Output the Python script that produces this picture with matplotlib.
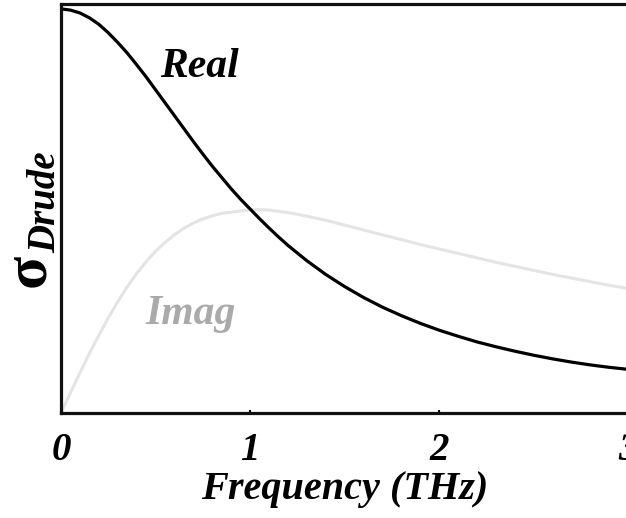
import matplotlib
matplotlib.use("Agg")
import matplotlib.pyplot as plt

# values (frequency in THz, arbitrary conductivity units)
freq = [0.00, 0.05, 0.10, 0.15, 0.20, 0.25, 0.30, 0.35, 0.40, 0.45,
        0.50, 0.55, 0.60, 0.65, 0.70, 0.75, 0.80, 0.85, 0.90, 0.95,
        1.00, 1.05, 1.10, 1.15, 1.20, 1.25, 1.30, 1.35, 1.40, 1.45,
        1.50, 1.60, 1.70, 1.80, 1.90, 2.00, 2.10, 2.20, 2.30, 2.40,
        2.50, 2.60, 2.70, 2.80, 2.90, 3.00]
sigma_real = [1.000, 0.997, 0.990, 0.978, 0.962, 0.941, 0.917, 0.891, 0.862, 0.832,
              0.800, 0.768, 0.736, 0.704, 0.672, 0.641, 0.611, 0.583, 0.555, 0.529,
              0.505, 0.481, 0.458, 0.436, 0.415, 0.396, 0.377, 0.360, 0.343, 0.328,
              0.313, 0.286, 0.262, 0.241, 0.222, 0.205, 0.190, 0.176, 0.164, 0.153,
              0.143, 0.134, 0.126, 0.119, 0.113, 0.108]
sigma_imag = [0.000, 0.050, 0.099, 0.147, 0.192, 0.235, 0.275, 0.312, 0.345, 0.374,
              0.400, 0.422, 0.441, 0.457, 0.470, 0.480, 0.488, 0.494, 0.497, 0.500,
              0.503, 0.503, 0.502, 0.499, 0.496, 0.492, 0.487, 0.482, 0.477, 0.471,
              0.465, 0.453, 0.441, 0.429, 0.417, 0.406, 0.395, 0.384, 0.373, 0.363,
              0.353, 0.343, 0.334, 0.325, 0.316, 0.308]
xticks = [0, 1, 2, 3]

serif = "Liberation Serif"
txt = dict(family=serif, weight="bold", style="italic")

fig = plt.figure(figsize=(6.26, 5.18), dpi=100)
ax = fig.add_axes([0.0974, 0.2027, 0.906, 0.7895])

ax.plot(freq, sigma_imag, color="#e4e4e4", lw=2.2, solid_capstyle="round")
ax.plot(freq, sigma_real, color="black", lw=2.3, solid_capstyle="round")

ax.set_xlim(0, 3)
ax.set_ylim(0, 1.012)

for side in ["left", "bottom", "top"]:
    ax.spines[side].set_linewidth(2.3)
    ax.spines[side].set_color("#111111")
ax.spines["right"].set_visible(False)

ax.set_yticks([])
ax.set_xticks(xticks)
ax.set_xticklabels([str(t) for t in xticks], fontsize=28, **txt)
ax.tick_params(axis="x", direction="in", length=2, width=1.5, pad=14)
ax.set_xlabel("Frequency (THz)", fontsize=29, labelpad=1, **txt)

ax.text(0.735, 0.855, "Real", fontsize=30, color="black", ha="center", va="center", **txt)
ax.text(0.685, 0.245, "Imag", fontsize=30, color="#aaaaaa", ha="center", va="center", **txt)

# y label: big bold sigma with italic subscript
fig.text(29 / 626, 1 - 270 / 518, "σ", fontsize=44, family=serif, weight="bold",
         rotation=90, ha="center", va="center")
fig.text(46 / 626, 1 - 202 / 518, "Drude", fontsize=28, rotation=90,
         ha="center", va="center", **txt)

fig.savefig("out.png", dpi=100)
